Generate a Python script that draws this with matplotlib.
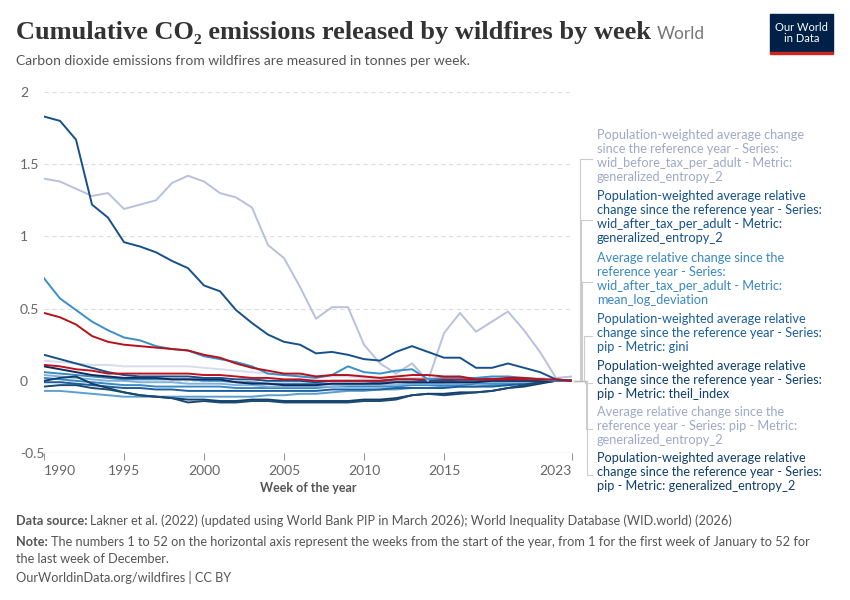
import matplotlib
matplotlib.use("Agg")
import matplotlib.pyplot as plt
import numpy as np

years = list(range(1990, 2024))

s_dark1 = [1.83,1.80,1.67,1.22,1.13,0.96,0.93,0.89,0.83,0.78,0.66,0.62,0.49,0.40,0.32,0.27,0.25,0.19,0.20,0.18,0.15,0.14,0.20,0.24,0.20,0.16,0.16,0.09,0.09,0.12,0.09,0.06,0.01,0.0]
s_lav1 = [1.40,1.38,1.33,1.28,1.30,1.19,1.22,1.25,1.37,1.42,1.38,1.30,1.27,1.20,0.94,0.85,0.65,0.43,0.51,0.51,0.25,0.12,0.05,0.12,0.0,0.33,0.47,0.34,0.41,0.48,0.35,0.20,0.02,0.03]
s_mid1 = [0.71,0.57,0.49,0.41,0.35,0.30,0.28,0.24,0.22,0.21,0.17,0.15,0.13,0.10,0.05,0.04,0.03,0.02,0.04,0.10,0.06,0.05,0.07,0.08,0.01,0.02,0.02,0.02,0.03,0.03,0.02,0.01,0.0,0.0]
s_red1 = [0.47,0.44,0.39,0.31,0.27,0.25,0.24,0.23,0.22,0.21,0.18,0.16,0.12,0.09,0.07,0.05,0.05,0.03,0.04,0.04,0.03,0.02,0.03,0.04,0.04,0.03,0.03,0.01,0.01,0.02,0.02,0.01,0.01,0.0]
s_red2 = [0.11,0.10,0.08,0.07,0.05,0.05,0.05,0.05,0.05,0.05,0.04,0.04,0.03,0.02,0.02,0.01,0.01,0.0,0.0,0.0,0.0,0.0,0.01,0.01,0.01,0.01,0.01,0.01,0.01,0.01,0.01,0.01,0.0,0.0]
s_dark2 = [0.18,0.15,0.12,0.09,0.06,0.04,0.03,0.03,0.03,0.03,0.02,0.02,0.01,0.01,0.0,0.0,0.0,-0.01,0.0,0.0,0.0,0.0,0.01,0.01,0.0,0.0,0.01,0.01,0.01,0.01,0.01,0.01,0.0,0.0]
s_navy = [0.10,0.08,0.06,0.04,0.03,0.02,0.02,0.02,0.01,0.01,0.01,0.01,-0.01,-0.02,-0.02,-0.03,-0.03,-0.03,-0.02,-0.02,-0.02,-0.02,-0.01,-0.01,-0.01,-0.01,-0.01,-0.01,0.0,0.0,0.0,0.0,0.0,0.0]
s_lav2 = [0.14,0.13,0.12,0.11,0.11,0.10,0.10,0.10,0.10,0.10,0.09,0.08,0.07,0.06,0.05,0.04,0.04,0.03,0.03,0.03,0.02,0.02,0.02,0.02,0.02,0.02,0.02,0.02,0.02,0.02,0.02,0.02,0.01,0.0]
s_lb1 = [0.06,0.05,0.04,0.03,0.02,0.01,0.01,0.01,0.01,0.01,0.0,0.0,-0.01,-0.01,-0.02,-0.02,-0.02,-0.02,-0.02,-0.02,-0.02,-0.01,-0.01,-0.01,-0.01,-0.01,0.0,0.0,0.0,0.0,0.0,0.0,0.0,0.0]
s_lb2 = [0.04,0.03,0.02,0.01,0.0,0.0,-0.01,-0.01,-0.01,-0.02,-0.02,-0.02,-0.03,-0.03,-0.04,-0.04,-0.04,-0.04,-0.04,-0.03,-0.03,-0.03,-0.03,-0.02,-0.02,-0.02,-0.02,-0.01,-0.01,-0.01,-0.01,0.0,0.0,0.0]
s_lb3 = [-0.07,-0.07,-0.08,-0.09,-0.10,-0.11,-0.11,-0.11,-0.11,-0.11,-0.11,-0.11,-0.11,-0.11,-0.10,-0.10,-0.09,-0.09,-0.08,-0.07,-0.07,-0.06,-0.06,-0.05,-0.05,-0.04,-0.04,-0.04,-0.03,-0.03,-0.02,-0.01,0.0,0.0]
s_dk3 = [-0.04,-0.03,-0.03,-0.05,-0.06,-0.08,-0.10,-0.11,-0.12,-0.15,-0.14,-0.15,-0.15,-0.14,-0.14,-0.15,-0.15,-0.15,-0.15,-0.15,-0.14,-0.14,-0.13,-0.10,-0.09,-0.10,-0.09,-0.08,-0.07,-0.05,-0.03,-0.01,0.0,0.0]
s_dk4 = [0.0,0.02,0.03,-0.02,-0.05,-0.08,-0.10,-0.11,-0.12,-0.13,-0.13,-0.14,-0.14,-0.13,-0.13,-0.14,-0.14,-0.14,-0.14,-0.14,-0.13,-0.13,-0.12,-0.10,-0.09,-0.09,-0.08,-0.08,-0.07,-0.05,-0.04,-0.02,0.0,0.0]
s_mb2 = [-0.01,-0.01,-0.02,-0.03,-0.04,-0.05,-0.05,-0.06,-0.06,-0.07,-0.07,-0.07,-0.07,-0.07,-0.07,-0.07,-0.07,-0.07,-0.06,-0.06,-0.06,-0.06,-0.05,-0.05,-0.05,-0.05,-0.04,-0.04,-0.04,-0.03,-0.02,-0.01,0.0,0.0]
s_mb3 = [0.02,0.01,0.0,-0.01,-0.02,-0.03,-0.03,-0.04,-0.04,-0.04,-0.04,-0.04,-0.05,-0.05,-0.05,-0.05,-0.05,-0.05,-0.04,-0.04,-0.04,-0.04,-0.04,-0.03,-0.03,-0.03,-0.03,-0.02,-0.02,-0.02,-0.01,-0.01,0.0,0.0]

series = [
    (s_lb3, "#5b9fd1"), (s_mb3, "#3a88c2"), (s_mb2, "#1c5e9e"), (s_lb2, "#7fb3dc"),
    (s_lb1, "#3a88c2"), (s_dk4, "#123f6a"), (s_dk3, "#1a4a74"), (s_lav2, "#d9dbee"),
    (s_navy, "#0f2a5c"), (s_dark2, "#15508a"), (s_red2, "#c0121e"), (s_lav1, "#b8c0e0"),
    (s_mid1, "#3a8fc8"), (s_dark1, "#15508a"), (s_red1, "#b5121b"),
]

labels = [
    ("Population-weighted average change\nsince the reference year - Series:\nwid_before_tax_per_adult - Metric:\ngeneralized_entropy_2", "#a0a8c6", 136),
    ("Population-weighted average relative\nchange since the reference year - Series:\nwid_after_tax_per_adult - Metric:\ngeneralized_entropy_2", "#15508a", 197),
    ("Average relative change since the\nreference year - Series:\nwid_after_tax_per_adult - Metric:\nmean_log_deviation", "#3a88c2", 259),
    ("Population-weighted average relative\nchange since the reference year - Series:\npip - Metric: gini", "#1c5e9e", 320),
    ("Population-weighted average relative\nchange since the reference year - Series:\npip - Metric: theil_index", "#0e3f6e", 367),
    ("Average relative change since the\nreference year - Series: pip - Metric:\ngeneralized_entropy_2", "#a0a8c6", 413),
    ("Population-weighted average relative\nchange since the reference year - Series:\npip - Metric: generalized_entropy_2", "#123f6a", 459),
]

W, H = 850, 600
fig = plt.figure(figsize=(8.5, 6), dpi=100)
ax = fig.add_axes([44/W, 1-453/H, (572-44)/W, (453-92)/H])
for vals, c in series:
    ax.plot(years, vals, color=c, lw=1.4, solid_joinstyle="round")
ax.set_xlim(1990, 2023)
ax.set_ylim(-0.5, 2)
ax.set_yticks([-0.5, 0, 0.5, 1, 1.5, 2])
ax.set_yticklabels(["-0.5", "0", "0.5", "1", "1.5", "2"])
ax.set_xticks([1990, 1995, 2000, 2005, 2010, 2015, 2023])
for s in ["top", "right", "left", "bottom"]:
    ax.spines[s].set_visible(False)
ax.grid(axis="y", color="#dddddd", ls=(0, (4, 3)), lw=0.8)
ax.tick_params(axis="y", length=0, labelsize=10, colors="#666666", pad=6)
ax.tick_params(axis="x", length=5, color="#999999", labelsize=10, colors="#666666")
for lab in ax.get_yticklabels():
    lab.set_horizontalalignment("left")
    lab.set_x(-0.03)
ax.axhline(-0.5, color="#999999", lw=0.8)
ax.set_xlabel("Week of the year", fontsize=9, color="#555555", fontweight="bold", family="Lato", labelpad=4)
xl = ax.get_xticklabels()
xl[0].set_horizontalalignment("left")
xl[-1].set_horizontalalignment("right")
for l in ax.get_yticklabels():
    l.set_fontfamily("Lato")
for l in xl:
    l.set_fontfamily("Lato")

for i, (txt, c, ytop) in enumerate(labels):
    n = txt.count("\n") + 1
    yc = ytop + (n * 15) / 2 - 7
    xv = 580 + i * 1.2
    fig.add_artist(plt.Line2D([574/W, xv/W], [1-381/H, 1-381/H], color="#bbbbbb", lw=0.8))
    fig.add_artist(plt.Line2D([xv/W, xv/W], [1-381/H, 1-yc/H], color="#cccccc", lw=0.8))
    fig.add_artist(plt.Line2D([xv/W, 592/W], [1-yc/H, 1-yc/H], color="#cccccc", lw=0.8))
    fig.text(597/W, 1-(ytop-7)/H, txt, color=c, fontsize=9.2, family="Lato", va="top", ha="left", linespacing=1.2)

t = fig.text(16/W, 1-32/H, "Cumulative CO₂ emissions released by wildfires by week", fontsize=19,
         family=["Liberation Serif", "DejaVu Serif"], color="#333333", fontweight="bold", va="center")
fig.canvas.draw()
bb = t.get_window_extent()
fig.text((bb.x1 + 6)/W, 1-34/H, "World", fontsize=12.5, family="Lato", color="#777777", va="center")
fig.text(16/W, 1-61/H, "Carbon dioxide emissions from wildfires are measured in tonnes per week.",
         fontsize=10, family="Lato", color="#555555", va="center")

fig.add_artist(plt.Rectangle((770/W, 1-52/H), 63/W, 38/H, color="#002147", transform=fig.transFigure))
fig.add_artist(plt.Rectangle((770/W, 1-54/H), 63/W, 2.5/H, color="#ce261e", transform=fig.transFigure))
fig.text(801.5/W, 1-33/H, "Our World\nin Data", color="white", fontsize=8, family="Lato", ha="center", va="center", linespacing=1.1)

FS = 9.2
def prefixed(y, bold, rest):
    b = fig.text(16/W, 1-y/H, bold, fontsize=FS, family="Lato", fontweight="bold", color="#555555", va="baseline")
    fig.canvas.draw()
    x1 = b.get_window_extent().x1
    fig.text((x1 + 3)/W, 1-y/H, rest, fontsize=FS, family="Lato", color="#555555", va="baseline")

prefixed(525, "Data source:", "Lakner et al. (2022) (updated using World Bank PIP in March 2026); World Inequality Database (WID.world) (2026)")
prefixed(546, "Note:", "The numbers 1 to 52 on the horizontal axis represent the weeks from the start of the year, from 1 for the first week of January to 52 for")
fig.text(16/W, 1-563/H, "the last week of December.", fontsize=FS, family="Lato", color="#555555", va="baseline")
fig.text(16/W, 1-582/H, "OurWorldinData.org/wildfires | CC BY", fontsize=FS, family="Lato", color="#555555", va="baseline")

fig.savefig("out.png", dpi=100)
